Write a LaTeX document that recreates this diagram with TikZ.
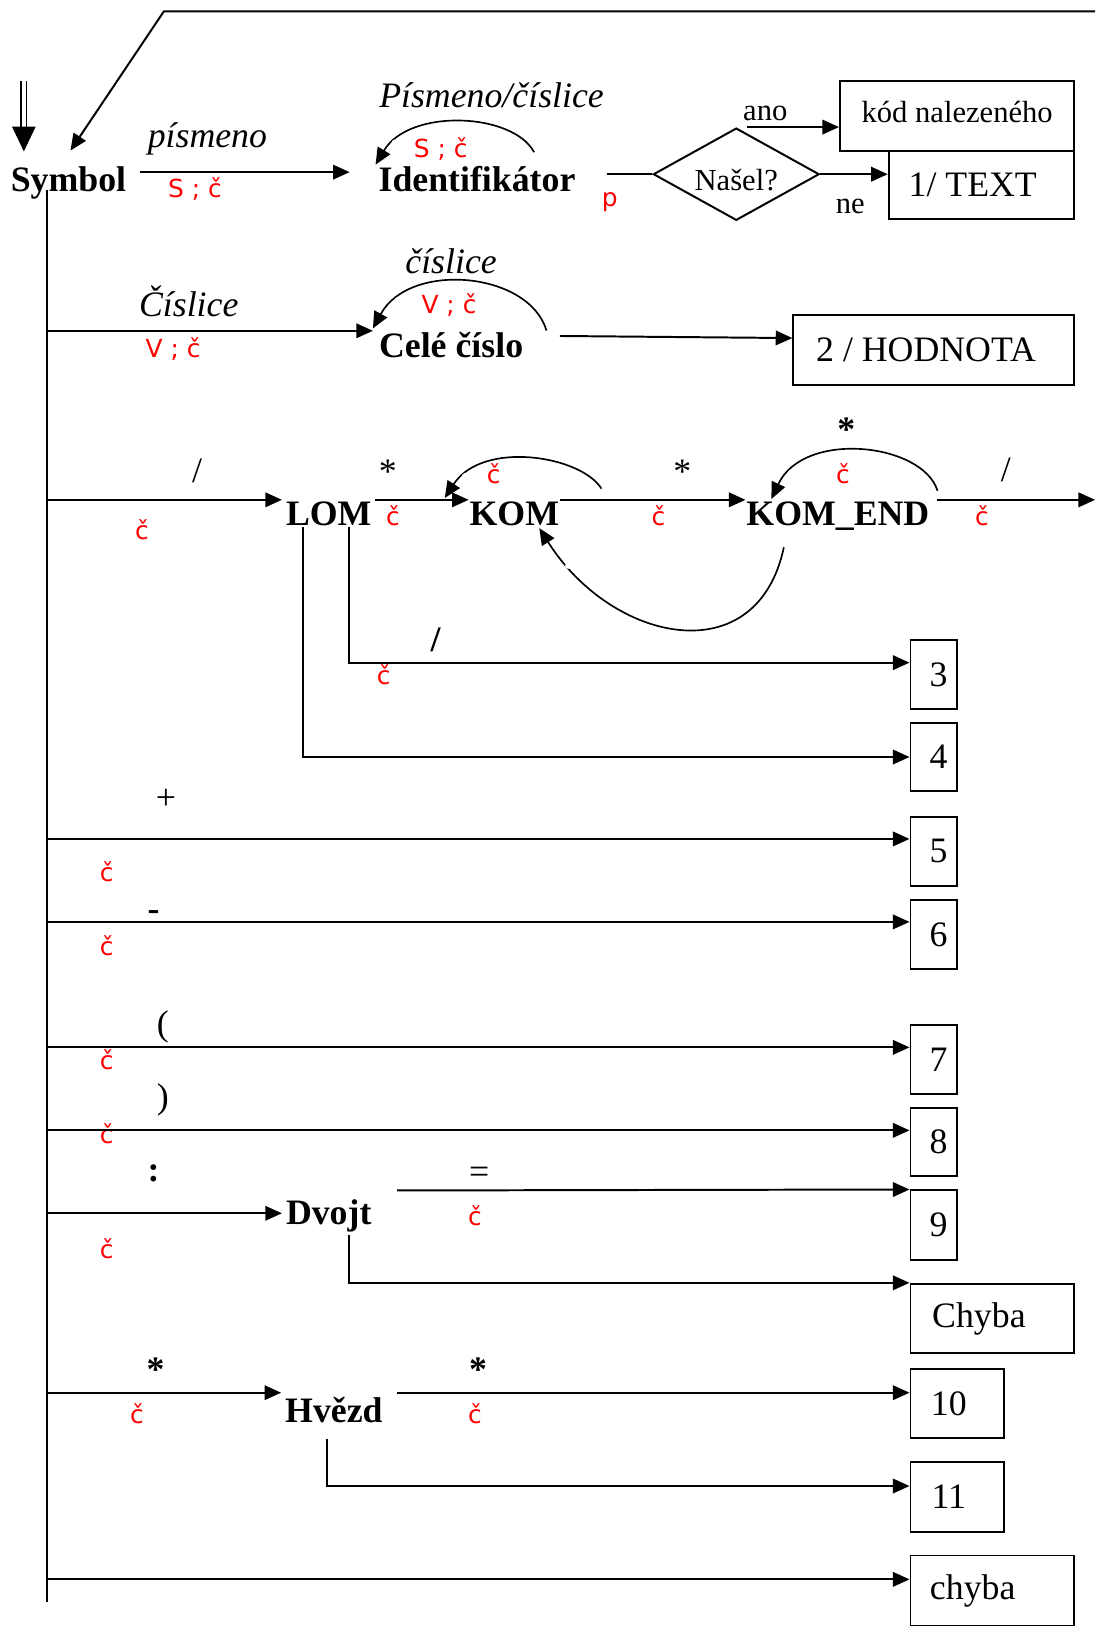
\documentclass[tikz,border=0pt]{standalone}
\usepackage{fontspec}
\setmainfont{Liberation Serif}
\newfontfamily\redfont{DejaVu Sans}
\usetikzlibrary{arrows.meta,shapes.geometric,calc}
\begin{document}
\begin{tikzpicture}[x=1pt,y=-1pt,line width=1.9pt,
  arr/.style={-{Triangle[length=16pt,width=14pt]}},
  bignode/.style={font=\fontsize{34.5}{40}\selectfont\bfseries,inner sep=0pt,anchor=base},
  symr/.style={font=\fontsize{34.5}{40}\selectfont,inner sep=0pt,anchor=base},
  symb/.style={font=\fontsize{34.5}{40}\selectfont\bfseries,inner sep=0pt,anchor=base},
  itl/.style={font=\fontsize{34.5}{40}\selectfont\itshape,inner sep=0pt,anchor=base},
  sm/.style={font=\fontsize{29.5}{34}\selectfont,inner sep=0pt,anchor=base},
  rl/.style={font=\redfont\fontsize{24}{28}\selectfont,text=red,inner sep=0pt},
  box/.style={draw,font=\fontsize{34.5}{40}\selectfont,inner sep=0pt},
  loopline/.style={line width=1.6pt},
  gapfill/.style={fill=white}
]
\useasboundingbox (0,0) rectangle (1056,1568);

% ---------- red labels
\node[rl] (r1) at (188,182) {S ; č};
\node[rl] (r2) at (425,144) {S ; č};
\node[rl] (r3) at (588,195) {p};
\node[rl] (r4) at (167,337) {V ; č};
\node[rl] (r5) at (433,294) {V ; č};
\node[rl] (r6) at (137,511) {č};
\node[rl] (r7) at (379,497) {č};
\node[rl] (r8) at (476,457) {č};
\node[rl] (r9) at (635,497) {č};
\node[rl] (r10) at (813,457) {č};
\node[rl] (r11) at (947,497) {č};
\node[rl] (r12) at (370,651) {č};
\node[rl] (r13) at (103,841) {č};
\node[rl] (r14) at (103,912) {č};
\node[rl] (r15) at (103,1022) {č};
\node[rl] (r16) at (103,1093) {č};
\node[rl] (r17) at (103,1204) {č};
\node[rl] (r18) at (458,1172) {č};
\node[rl] (r19) at (132,1363) {č};
\node[rl] (r20) at (458,1363) {č};

% ---------- state nodes
\node[bignode] (symbol) at (66,185) {Symbol};
\node[bignode] (ident) at (460,185) {Identifikátor};
\node[bignode] (cele) at (435,345) {Celé číslo};
\node[bignode] (lom) at (317,507) {LOM};
\node[bignode] (kom) at (496,507) {KOM};
\node[bignode] (kend) at (808,507) {KOM\_END};
\node[bignode] (dvojt) at (317,1181) {Dvojt};
\node[bignode] (hvezd) at (322,1372) {Hvězd};

% ---------- decision
\node[draw,diamond,aspect=1.8,minimum width=160pt,minimum height=89pt,inner sep=0pt,
      font=\fontsize{29.5}{34}\selectfont] (dia) at (710,168) {\smash{\raisebox{-16pt}{Našel?}}};

% ---------- boxes
\node[box,font=\fontsize{29.5}{34}\selectfont,minimum width=226pt,minimum height=68pt] (kod) at (923,112) {\smash{\raisebox{-6pt}{kód nalezeného}}};
\node[box,minimum width=179pt,minimum height=65pt] (txt) at (946.5,178.5) {1/ TEXT\kern17pt};
\node[box,minimum width=271pt,minimum height=67pt] (hod) at (900.5,337.5) {2 / HODNOTA\kern15pt};
\node[box,minimum width=45pt,minimum height=67pt] (b3) at (900.5,650.5) {\kern9pt3};
\node[box,minimum width=45pt,minimum height=66pt] (b4) at (900.5,730) {\kern9pt4};
\node[box,minimum width=45pt,minimum height=66pt] (b5) at (900.5,821) {\kern9pt5};
\node[box,minimum width=45pt,minimum height=66pt] (b6) at (900.5,901) {\kern9pt6};
\node[box,minimum width=45pt,minimum height=67pt] (b7) at (900.5,1021.5) {\kern9pt7};
\node[box,minimum width=45pt,minimum height=66pt] (b8) at (900.5,1101) {\kern9pt8};
\node[box,minimum width=45pt,minimum height=67pt] (b9) at (900.5,1181.5) {\kern9pt9};
\node[box,minimum width=158pt,minimum height=67pt] (chb) at (957,1271.5) {Chyba\kern26pt};
\node[box,minimum width=90pt,minimum height=67pt] (b10) at (923,1353.5) {10\kern16pt};
\node[box,minimum width=90pt,minimum height=67pt] (b11) at (923,1443.5) {11\kern16pt};
\node[box,minimum width=158pt,minimum height=68pt] (chy) at (957,1534) {chyba\kern38pt};

% ---------- black labels
\node[itl] (l1) at (200,142) {písmeno};
\node[itl] (l2) at (474,104) {Písmeno/číslice};
\node[sm] (l3) at (738,116) {ano};
\node[sm] (l4) at (820,206) {ne};
\node[itl] (l5) at (182,305) {Číslice};
\node[itl] (l6) at (435,264) {číslice};
\node[symr] (l7) at (190,465) {/};
\node[symr] (l8) at (374,466) {*};
\node[symr] (l9) at (658,466) {*};
\node[symb] (l10) at (816,426) {*};
\node[symr] (l11) at (970,464) {/};
\node[symb] (l12) at (420,628) {/};
\node[symr] (l13) at (160,781) {+};
\node[symb] (l14) at (148,888) {-};
\node[symr] (l15) at (157,999) {(};
\node[symr] (l16) at (157,1069) {)};
\node[symb] (l17) at (148,1139) {:};
\node[symr] (l18) at (462,1141) {=};
\node[symb] (l19) at (150,1332) {*};
\node[symb] (l20) at (461,1332) {*};

% ---------- coordinates
\coordinate (spineTop) at (45,183);
\coordinate (spineBot) at (45,1545);
\coordinate (tl) at (158,11);
\coordinate (tr) at (1056,11);
\coordinate (entry) at (23,78);
\coordinate (a1) at (135,166);
\coordinate (idout) at (585,168);
\coordinate (anoS) at ($(dia.north)+(10,0)$);
\coordinate (s2) at (45,319);
\coordinate (celeout) at (540,324);
\coordinate (s3) at (45,482);
\coordinate (exit) at (1056,482);
\coordinate (s5) at (45,809);
\coordinate (s6) at (45,889);
\coordinate (s7) at (45,1010);
\coordinate (s8) at (45,1090);
\coordinate (s9) at (45,1170);
\coordinate (dvS) at (383,1148);
\coordinate (s10) at (45,1343);
\coordinate (hvS) at (383,1343);
\coordinate (s12) at (45,1523);

% ---------- entry double arrow
\draw[line width=1.8pt] ($(entry)+(-2.6,0)$) -- ++(0,46) ($(entry)+(2.6,0)$) -- ++(0,46);
\fill ($(entry)+(-11.5,44)$) -- ($(entry)+(11.5,44)$) -- ($(entry)+(0,68)$) -- cycle;

% ---------- spine and return line
\draw (spineTop) -- (spineBot);
\draw[arr] (tr) -- (tl) -- ($(symbol.north)+(2,-15)$);

% ---------- row 1
\draw[arr,shorten >=27pt] (a1) -- (a1 -| ident.west);
\draw (idout) -- (dia.west);
\draw[arr] (anoS) -- (anoS -| kod.west);
\draw[arr] (dia.east) -- (dia.east -| txt.west);
\draw[loopline,arr] ($(ident.north)+(55,-13)$) .. controls ($(ident.north)+(35,-51)$) and ($(ident.north)+(-65,-56)$) .. ($(ident.north west)+(-2,-1)$) coordinate[pos=0.85] (g1);

% ---------- row 2
\draw[arr,shorten >=5pt] (s2) -- (s2 -| cele.west);
\draw[arr] (celeout) -- ([yshift=11.5pt]hod.west);
\draw[loopline,arr] ($(cele.north)+(92,-1)$) .. controls ($(cele.north)+(75,-58)$) and ($(cele.north)+(-40,-68)$) .. ($(cele.north west)+(-5,-3)$) coordinate[pos=0.83] (g2);

% ---------- row 3 (comments)
\draw[arr,shorten >=3pt] (s3) -- (s3 -| lom.west);
\draw[arr] ($(s3 -| lom.east)+(2,0)$) -- (s3 -| kom.west);
\draw[arr] (s3 -| kom.east) -- (s3 -| kend.west);
\draw[arr] ($(s3 -| kend.east)+(6,0)$) -- (exit);
\draw[loopline,arr] ($(kom.north)+(84,-12)$) .. controls ($(kom.north)+(64,-44)$) and ($(kom.north)+(-31,-59)$) .. ($(kom.north west)+(-23,-3)$) coordinate[pos=0.85] (g3);
\draw[loopline,arr] ($(kend.north)+(96,-10)$) .. controls ($(kend.north)+(82,-56)$) and ($(kend.north)+(-33,-69)$) .. ($(kend.north west)+(25,-2)$) coordinate[pos=0.85] (g4);
\draw[loopline,arr] ($(kend.south west)+(37,15)$) .. controls (730,650) and (590,620) .. ($(kom.south east)+(-20,1)$) coordinate[pos=0.88] (g5);
\draw[arr] ($(lom.south west)+(62,0)$) |- ([yshift=11.5pt]b3.west);
\draw[arr] ($(lom.south west)+(17,0)$) |- (b4.west);

% ---------- single symbol rows
\draw[arr] (s5) -- (s5 -| b5.west);
\draw[arr] (s6) -- (s6 -| b6.west);
\draw[arr] (s7) -- (s7 -| b7.west);
\draw[arr] (s8) -- (s8 -| b8.west);

% ---------- Dvojt
\draw[arr,shorten >=3pt] (s9) -- (s9 -| dvojt.west);
\draw[arr] (dvS) -- (b9.north west);
\draw[arr] ($(dvojt.south west)+(62,2)$) |- (chb.north west);

% ---------- Hvezd
\draw[arr,shorten >=3pt] (s10) -- (s10 -| hvezd.west);
\draw[arr] (hvS) -- (hvS -| b10.west);
\draw[arr] ($(hvezd.south west)+(41,14)$) |- ([yshift=10.5pt]b11.west);

% ---------- others
\draw[arr] (s12) -- (s12 -| chy.west);

% ---------- small gaps in the loop arcs
\fill[gapfill] (g1) circle (3.5pt);
\fill[gapfill] (g2) circle (3.5pt);
\fill[gapfill] (g3) circle (3.5pt);
\fill[gapfill] (g4) circle (3.5pt);
\fill[gapfill] (g5) circle (3pt);
\end{tikzpicture}
\end{document}
